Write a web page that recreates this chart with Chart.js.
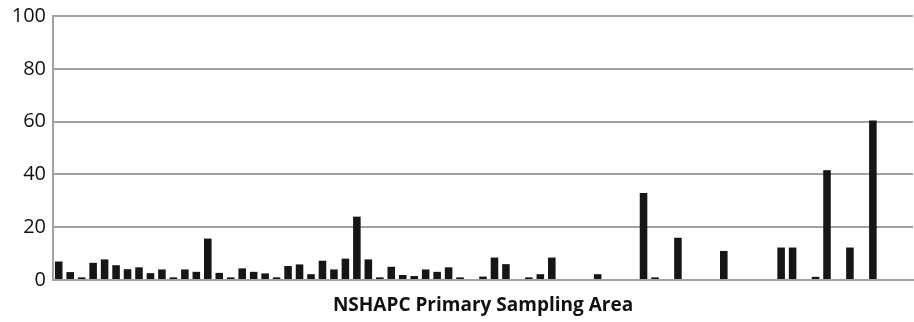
<!DOCTYPE html>
<html>
<head>
<meta charset="utf-8">
<script src="https://cdn.jsdelivr.net/npm/chart.js@4/dist/chart.umd.min.js"></script>
<style>
  html, body { margin: 0; padding: 0; background: #fff; }
  #wrap { width: 914px; height: 322px; position: relative; }
</style>
</head>
<body>
<div id="wrap"><canvas id="chart"></canvas></div>
<script>
// Primary sampling areas (one slot each, unlabeled on the axis)
const AREAS = [
  1, 2, 3, 4, 5, 6, 7, 8, 9, 10, 11, 12, 13, 14, 15, 16, 17, 18, 19, 20,
  21, 22, 23, 24, 25, 26, 27, 28, 29, 30, 31, 32, 33, 34, 35, 36, 37, 38, 39, 40,
  41, 42, 43, 44, 45, 46, 47, 48, 49, 50, 51, 52, 53, 54, 55, 56, 57, 58, 59, 60,
  61, 62, 63, 64, 65, 66, 67, 68, 69, 70, 71, 72, 73, 74, 75
];

// values
const VALUES = [
  7, 3, 1, 6.5, 7.8, 5.6, 4.1, 4.8, 2.6, 4,
  1, 4, 3.1, 15.7, 2.7, 1, 4.4, 3.1, 2.5, 1,
  5.3, 5.9, 2.2, 7.3, 4, 8.1, 24, 7.8, 1, 5,
  1.9, 1.5, 4, 3.1, 4.8, 1, 0, 1.3, 8.5, 6,
  0, 1, 2.2, 8.5, 0, 0, 0, 2.2, 0, 0,
  0, 33, 1, 0, 16, 0, 0, 0, 11, 0,
  0, 0, 0, 12.3, 12.3, 0, 1.2, 41.6, 0, 12.3,
  0, 60.4, 0, 0, 0
];

const Y_TICKS = [0, 20, 40, 60, 80, 100];
const X_TITLE = 'NSHAPC Primary Sampling Area';

const GRID = '#a2a2a2';

new Chart(document.getElementById('chart'), {
  type: 'bar',
  data: {
    labels: AREAS,
    datasets: [{
      data: VALUES,
      backgroundColor: '#161616',
      borderWidth: 0,
      barPercentage: 0.66,
      categoryPercentage: 1
    }]
  },
  options: {
    responsive: true,
    maintainAspectRatio: false,
    animation: false,
    layout: { padding: { top: 12, right: 1, left: 0, bottom: 0 } },
    plugins: { legend: { display: false }, tooltip: { enabled: false } },
    scales: {
      x: {
        grid: { display: false },
        border: { display: true, color: GRID, width: 2 },
        ticks: { display: false },
        title: {
          display: true,
          text: X_TITLE,
          color: '#111',
          font: { family: '"Open Sans", sans-serif', size: 19, weight: 'bold' },
          padding: { top: 0, bottom: 5 }
        },
        afterFit: (s) => { s.height = 42; }
      },
      y: {
        min: 0,
        max: 100,
        afterBuildTicks: (s) => { s.ticks = Y_TICKS.map(v => ({ value: v })); },
        grid: { color: GRID, lineWidth: 2, drawTicks: false },
        border: { display: true, color: GRID, width: 2 },
        ticks: {
          color: '#111',
          padding: 7,
          font: { family: '"Open Sans", sans-serif', size: 20, lineHeight: 0.9 }
        },
        afterFit: (s) => { s.width = 53; }
      }
    }
  }
});
</script>
</body>
</html>
